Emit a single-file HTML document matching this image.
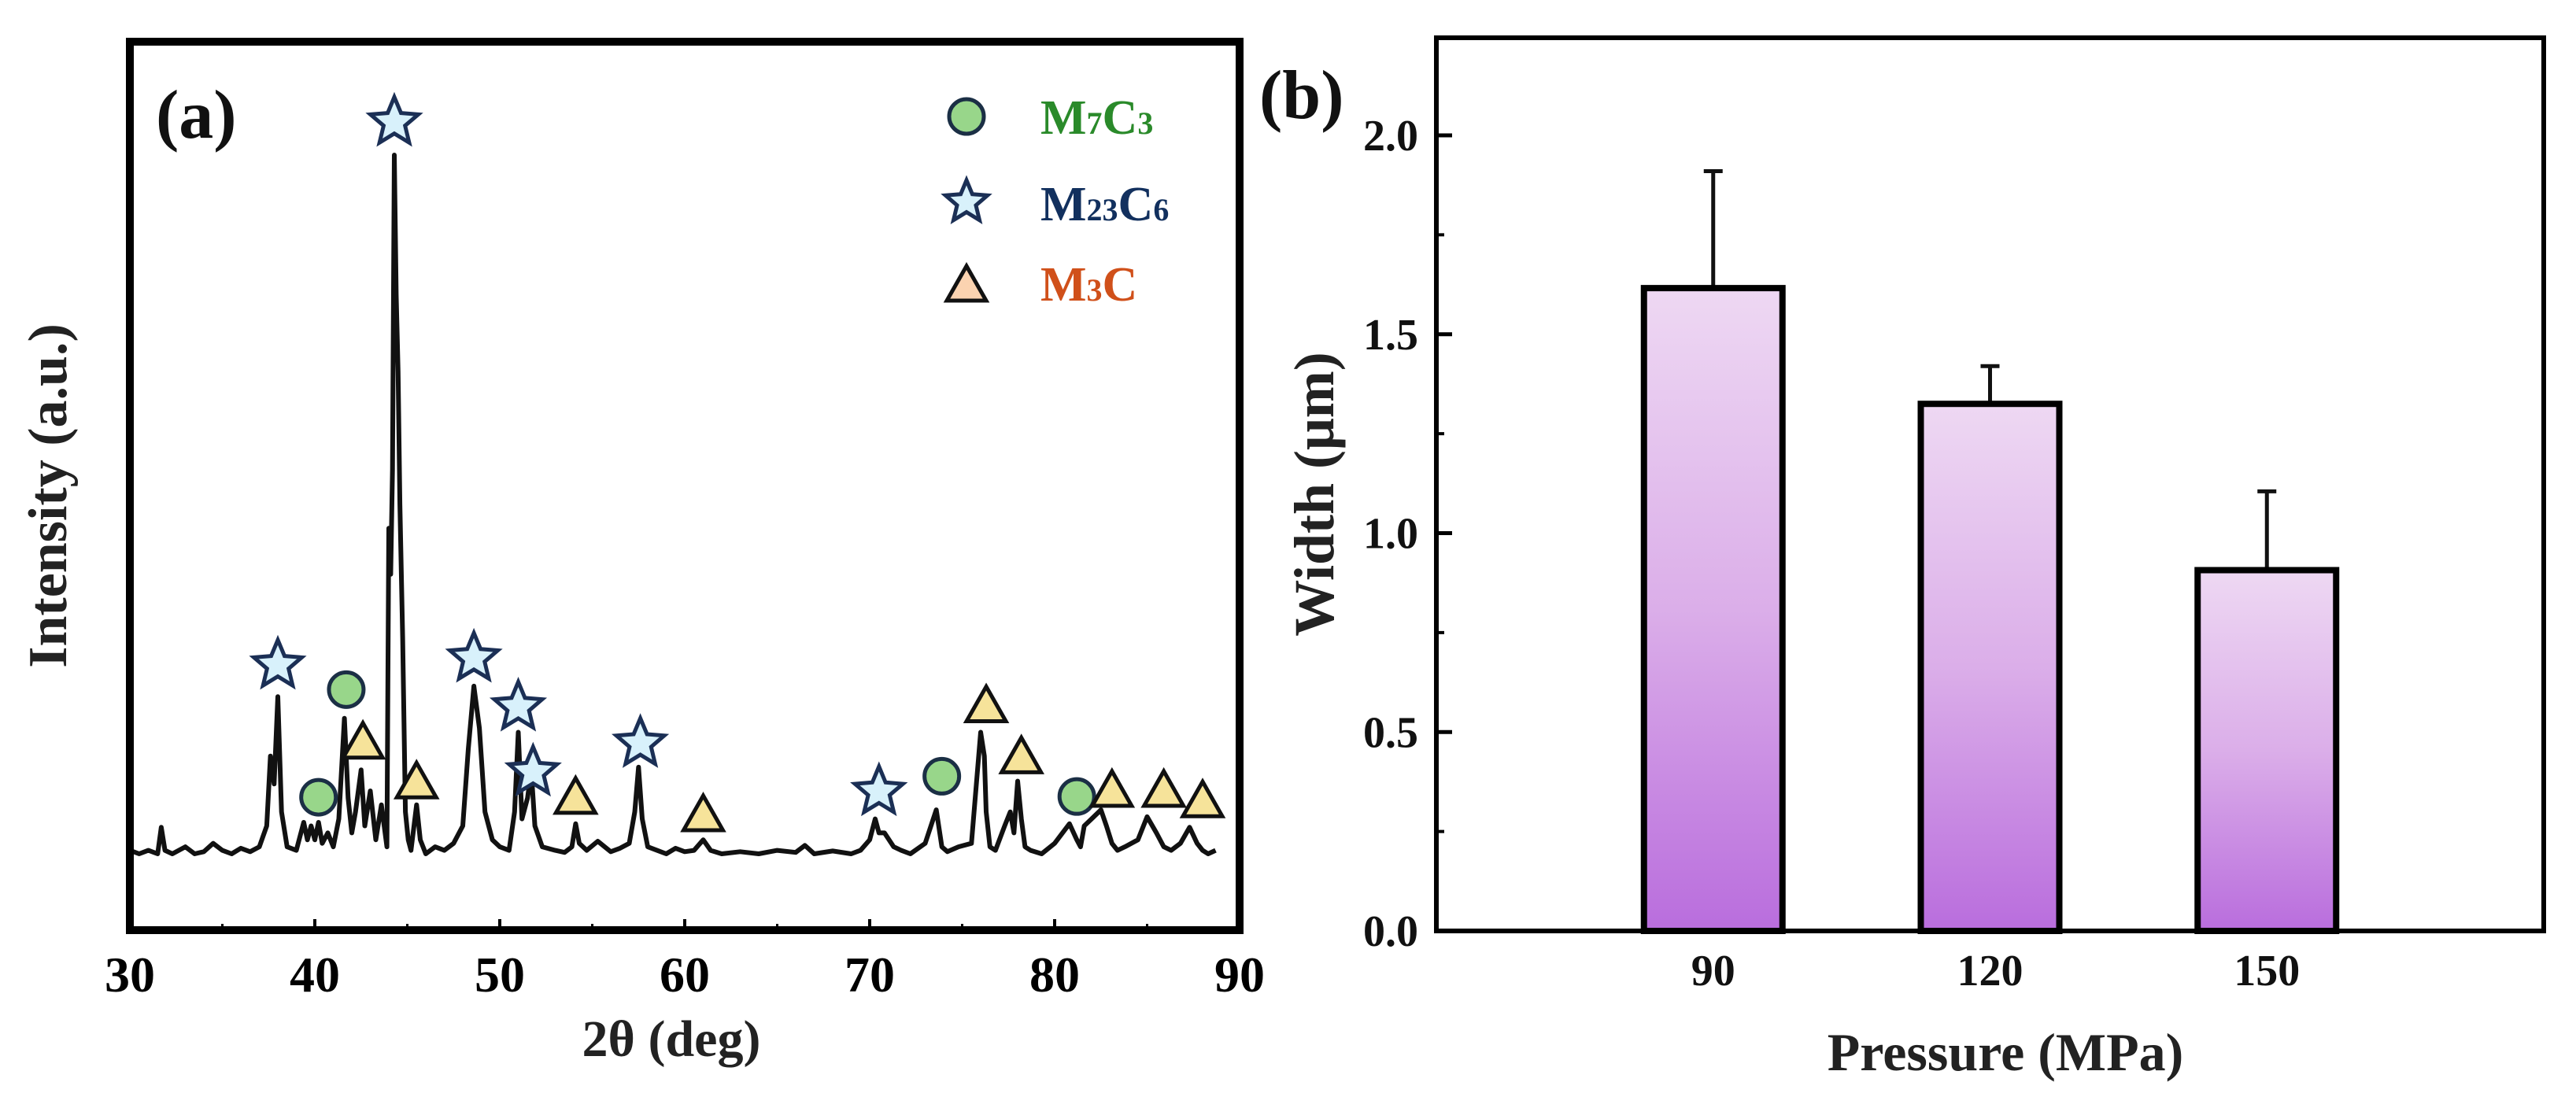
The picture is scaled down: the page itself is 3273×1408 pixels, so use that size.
<!DOCTYPE html>
<html><head><meta charset="utf-8"><style>
html,body{margin:0;padding:0;background:#fff;}
svg{display:block;}
text{font-family:"Liberation Serif",serif;font-weight:bold;}
</style></head><body>
<svg id="fig" width="3273" height="1408" viewBox="0 0 3273 1408" xmlns="http://www.w3.org/2000/svg">
<defs>
<linearGradient id="barGrad" x1="0" y1="0" x2="0" y2="1">
<stop offset="0" stop-color="#eed8f3"/><stop offset="0.5" stop-color="#dbaee9"/><stop offset="1" stop-color="#b96ddd"/>
</linearGradient>
</defs>
<g id="panelA"></g>
<g id="panelB"></g>
</svg>
<script>
// ---------- Panel (a) data ----------
const xrdTheta = [30,30.5,31,31.5,31.7,31.9,32.3,33,33.5,34,34.5,35,35.5,36,36.5,37,37.4,37.6,37.8,38.0,38.2,38.5,39,39.4,39.6,39.8,40.0,40.2,40.4,40.7,41.0,41.3,41.6,41.8,42.0,42.2,42.5,42.7,43.0,43.3,43.6,43.9,44.0,44.1,44.2,44.3,44.4,44.5,44.6,44.75,44.9,45.05,45.2,45.5,45.7,46,46.5,47,47.5,48,48.3,48.6,48.9,49.2,49.6,50,50.5,50.8,51.0,51.2,51.5,51.7,51.9,52.3,53,53.5,53.9,54.1,54.3,54.7,55.3,56,56.5,57,57.3,57.5,57.7,58,58.5,59,59.5,60,60.5,61,61.4,62,63,64,65,66,66.5,67,68,69,69.5,70,70.3,70.5,70.8,71.3,71.7,72.2,73,73.6,73.9,74.2,74.8,75.5,76.0,76.2,76.3,76.5,76.8,77.3,77.6,77.8,78.0,78.2,78.4,78.7,79.3,80,80.8,81.2,81.4,81.6,82,82.5,82.8,83.1,83.4,83.8,84.5,85,85.5,85.9,86.3,86.8,87.3,87.7,88.0,88.3,88.7,89.3,90];
const xrdIntensity = [0.5,0,0.5,0,3.8,0.5,0,1,0,0.3,1.5,0.5,0,0.8,0.3,1,4,14,10,22.5,6,1,0.5,4.5,2,4,2,4.5,1.5,3,1,5,19.4,8,3,6,12,4,9,2,7,1,46.6,40,55,100,80,69,50,31,6,2,0.5,7,2,0,1,0.5,1.5,4,15,24,18,6,2,1,0.5,6,17.4,5,8,12,4,1,0.5,0.2,1,4.3,1.5,0.5,1.8,0.3,0.8,1.5,6,12.4,5,1,0.5,0,0.8,0.3,0.5,2,0.5,0,0.3,0,0.5,0.2,1.2,0,0.4,0,0.5,2,5,3,3,1,0.5,0,1.5,6.3,1,0.3,1,1.5,17.4,14,6,1,0.5,4,6,3,10.4,5,1,0.5,0,1.5,4.3,2,1,4,5,6.3,4,1.5,0.5,1,2,5.3,3,1,0.5,1.5,3.8,1.5,0.5,0,0.5];
const starTheta = [38.0,44.3,48.6,51.0,51.8,57.6,70.5];
const starI = [27.0,104.7,28.0,21.0,11.7,15.8,8.9];
const circTheta = [40.2,41.7,73.9,81.2];
const circI = [8.1,23.5,11.1,8.2];
const triTheta = [42.6,45.5,54.1,61.0,76.3,78.2,83.1,85.9,88.0];
const triI = [15.8,10.1,7.9,5.4,21.0,13.7,8.9,8.9,7.4];
const xTicksA = [30,40,50,60,70,80,90];

// ---------- Panel (b) data ----------
const pressures = ["90","120","150"];
const widths = [1.616,1.325,0.907];
const errs = [0.294,0.095,0.198];
const yTicksB = [0.0,0.5,1.0,1.5,2.0];

const NS="http://www.w3.org/2000/svg";
function mk(parent,tag,attrs,txt){const e=document.createElementNS(NS,tag);for(const k in attrs)e.setAttribute(k,attrs[k]);if(txt!==undefined)e.textContent=txt;parent.appendChild(e);return e;}

// ===== Panel A =====
const A=document.getElementById('panelA');
const aL=165,aR=1575,aT=53,aB=1182;
const xA=t=>aL+(t-30)/60*(aR-aL);
const yA=v=>1085-v*8.88;
let d='';
xrdTheta.forEach((t,i)=>{d+=(i?'L':'M')+xA(t).toFixed(1)+' '+yA(xrdIntensity[i]).toFixed(1);});
const spec=mk(A,'path',{d:d,fill:'none',stroke:'#111',"stroke-width":6,"stroke-linejoin":"round"});


const fa=mk(A,'rect',{x:aL,y:aT,width:aR-aL,height:aB-aT,fill:'none',stroke:'#000',"stroke-width":10});


xTicksA.forEach(t=>{
  const x=xA(t);
  const tk=mk(A,'line',{x1:x,y1:aB,x2:x,y2:aB-14,stroke:'#000',"stroke-width":4});
  
  
  const lb=mk(A,'text',{x:x,y:1260,"font-size":64,"text-anchor":"middle"},String(t));
  
  
  if(t<90){const m=mk(A,'line',{x1:xA(t+5),y1:aB,x2:xA(t+5),y2:aB-8,stroke:'#000',"stroke-width":3});
  
  }
});
function star(cx,cy,R,parent,name){
  let p='';for(let k=0;k<10;k++){const r=k%2?R*0.45:R;const a=-Math.PI/2+k*Math.PI/5;p+=(k?'L':'M')+(cx+r*Math.cos(a)).toFixed(1)+' '+(cy+r*Math.sin(a)).toFixed(1);}
  const s=mk(parent,'path',{d:p+'Z',fill:'#d8f1fb',stroke:'#1b2f55',"stroke-width":5,"stroke-linejoin":"miter"});
  
  
}
function tri(cx,cy,parent,name,fill){
  const s=mk(parent,'path',{d:`M${cx} ${cy-26}L${cx+25} ${cy+18}L${cx-25} ${cy+18}Z`,fill:fill,stroke:'#111',"stroke-width":5,"stroke-linejoin":"miter"});
  
  
}
function circ(cx,cy,parent,name){
  const s=mk(parent,'circle',{cx:cx,cy:cy,r:22,fill:'#98d68a',stroke:'#1b2f45',"stroke-width":5});
  
  
}
starTheta.forEach((t,i)=>star(xA(t),yA(starI[i]),32,A,'m23c6-peak-marker'));
circTheta.forEach((t,i)=>circ(xA(t),yA(circI[i]),A,'m7c3-peak-marker'));
triTheta.forEach((t,i)=>tri(xA(t),yA(triI[i]),A,'m3c-peak-marker','#f6e39a'));
circ(1228,148,A,'legend-m7c3-marker');
star(1228,257,28,A,'legend-m23c6-marker');
tri(1228,364,A,'legend-m3c-marker','#fbd3b0');
</script>
<script>
(function(){
const A=document.getElementById('panelA');
function txt(parent,html,attrs,name){const e=document.createElementNS("http://www.w3.org/2000/svg",'text');for(const k in attrs)e.setAttribute(k,attrs[k]);e.innerHTML=html;parent.appendChild(e);return e;}
txt(A,'M<tspan font-size="40">7</tspan>C<tspan font-size="40">3</tspan>',{x:1322,y:170,"font-size":62,fill:'#2a8a2a'},'legend-m7c3-label');
txt(A,'M<tspan font-size="40">23</tspan>C<tspan font-size="40">6</tspan>',{x:1322,y:280,"font-size":62,fill:'#12305e'},'legend-m23c6-label');
txt(A,'M<tspan font-size="40">3</tspan>C',{x:1322,y:382,"font-size":62,fill:'#d0501a'},'legend-m3c-label');
txt(A,'(a)',{x:198,y:175,"font-size":88,fill:'#111'},'panel-a-label');
txt(A,'Intensity (a.u.)',{x:0,y:0,"font-size":70,fill:'#222',"text-anchor":"middle",transform:"translate(84,630) rotate(-90)"},'y-axis-title-a');
txt(A,'2θ (deg)',{x:853,y:1342,"font-size":66,fill:'#222',"text-anchor":"middle"},'x-axis-title-a');

const B=document.getElementById('panelB');
const NS="http://www.w3.org/2000/svg";
function mk(parent,tag,attrs){const e=document.createElementNS(NS,tag);for(const k in attrs)e.setAttribute(k,attrs[k]);parent.appendChild(e);return e;}
const bL=1825,bR=3232,bT=48,bB=1183;
const yB=v=>bB-v*505.5;
const xB=i=>bL+(i+1)/4*(bR-bL);
const bw=176;
widths.forEach((w,i)=>{
  const cx=xB(i);
  const eb=mk(B,'path',{d:`M${cx} ${yB(w)}V${yB(w+errs[i])}M${cx-12} ${yB(w+errs[i])}H${cx+12}`,stroke:'#111',"stroke-width":5,fill:'none'});
  
  
  const r=mk(B,'rect',{x:cx-bw/2,y:yB(w),width:bw,height:bB-yB(w),fill:'url(#barGrad)',stroke:'#000',"stroke-width":8});
  
  
  txt(B,pressures[i],{x:cx,y:1252,"font-size":56,fill:'#111',"text-anchor":"middle"},'x-tick-label');
});
const fb=mk(B,'rect',{x:bL,y:bT,width:bR-bL,height:bB-bT,fill:'none',stroke:'#000',"stroke-width":6});


yTicksB.forEach(v=>{
  const tk=mk(B,'line',{x1:bL,y1:yB(v),x2:bL+20,y2:yB(v),stroke:'#000',"stroke-width":5});
  
  
  if(v<2){const m=mk(B,'line',{x1:bL,y1:yB(v+0.25),x2:bL+10,y2:yB(v+0.25),stroke:'#000',"stroke-width":4});
  
  }
  txt(B,v.toFixed(1),{x:1802,y:yB(v)+19,"font-size":56,fill:'#111',"text-anchor":"end"},'y-tick-label');
});
txt(B,'(b)',{x:1600,y:150,"font-size":88,fill:'#111'},'panel-b-label');
txt(B,'Width  (μm)',{x:0,y:0,"font-size":72,fill:'#222',"text-anchor":"middle",transform:"translate(1694,628) rotate(-90)"},'y-axis-title-b');
txt(B,'Pressure (MPa)',{x:2548,y:1360,"font-size":68,fill:'#222',"text-anchor":"middle"},'x-axis-title-b');
})();
</script>
</body></html>
